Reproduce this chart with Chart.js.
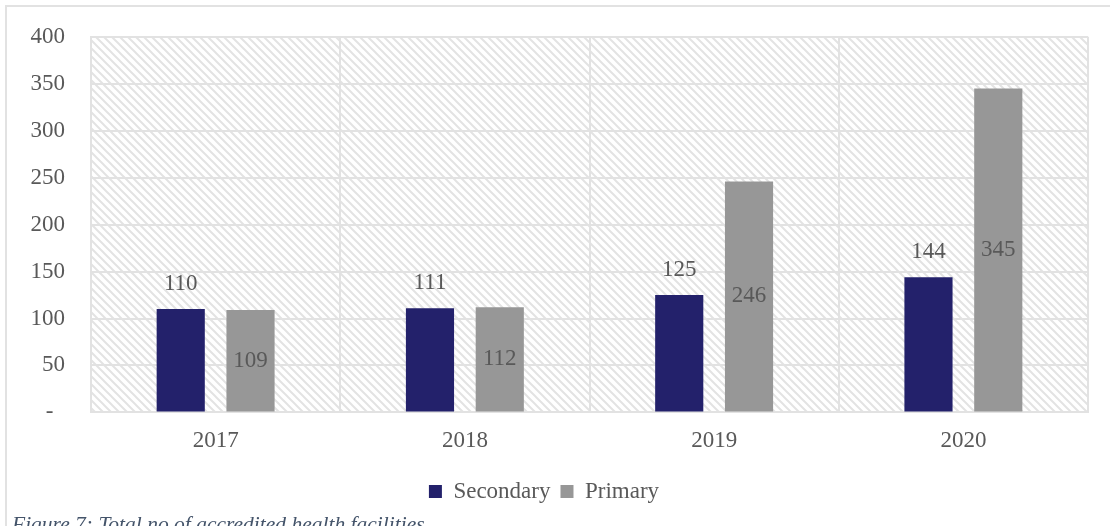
<!DOCTYPE html>
<html>
<head>
<meta charset="utf-8">
<script src="https://cdn.jsdelivr.net/npm/chart.js@4"></script>
<style>
  html, body { margin: 0; padding: 0; background: #fff; overflow: hidden; }
  body { width: 1110px; height: 526px; position: relative; }
  .frame {
    position: absolute; left: 5px; top: 5px; width: 1200px; height: 600px;
    border-left: 2px solid #e2e2e2; border-top: 2px solid #e2e2e2;
  }
  .wrap { position: absolute; left: 0; top: -3px; width: 1110px; height: 526px; }
  .caption {
    position: absolute; left: 12px; top: 514px; white-space: nowrap;
    font-family: "Liberation Serif", serif; font-style: italic; font-size: 21.5px;
    line-height: 21px; color: #44546a;
  }
</style>
</head>
<body>
<div class="frame"></div>
<div class="wrap"><canvas id="chart" width="1110" height="526"></canvas></div>
<div class="caption">Figure 7: Total no of accredited health facilities</div>
<script>
// Accredited facilities per year
const years = ['2017', '2018', '2019', '2020'];
const secondary = [110, 111, 125, 144];
const primary = [109, 112, 246, 345];
const yTicks = [0, 50, 100, 150, 200, 250, 300, 350, 400];

const labelColor = '#595959';
const serif = 'Liberation Serif';
const fontSize = 23;

// diagonal hatch for the plot background
function makeHatch() {
    const c = document.createElement('canvas');
    c.width = 8; c.height = 8;
    const g = c.getContext('2d');
    g.strokeStyle = '#e3e3e3';
    g.lineWidth = 2;
    g.beginPath();
    g.moveTo(-2, -2); g.lineTo(10, 10);
    g.moveTo(-2, 6); g.lineTo(2, 10);
    g.moveTo(6, -2); g.lineTo(10, 2);
    g.stroke();
    return c;
}

const hatchBg = {
    id: 'hatchBg',
    beforeDraw(chart) {
        const {ctx, chartArea: a} = chart;
        ctx.save();
        ctx.fillStyle = ctx.createPattern(makeHatch(), 'repeat');
        ctx.fillRect(a.left, a.top, a.right - a.left, a.bottom - a.top);
        ctx.restore();
    }
};

// value labels: secondary above the bar, primary in the middle
const valueLabels = {
    id: 'valueLabels',
    afterDatasetsDraw(chart) {
        const ctx = chart.ctx;
        ctx.save();
        ctx.font = fontSize + 'px "' + serif + '"';
        ctx.fillStyle = labelColor;
        ctx.textAlign = 'center';
        ctx.textBaseline = 'middle';
        chart.data.datasets.forEach((ds, i) => {
            chart.getDatasetMeta(i).data.forEach((bar, j) => {
                const y = i === 0 ? bar.y - 25 : (bar.y + bar.base) / 2;
                ctx.fillText(String(ds.data[j]), bar.x, y);
            });
        });
        ctx.restore();
    }
};

new Chart(document.getElementById('chart'), {
    type: 'bar',
    data: {
        labels: years,
        datasets: [{
            label: 'Secondary',
            data: secondary,
            backgroundColor: '#23216b',
            categoryPercentage: 0.56,
            barPercentage: 0.69
        }, {
            label: 'Primary',
            data: primary,
            backgroundColor: '#979797',
            categoryPercentage: 0.56,
            barPercentage: 0.69
        }]
    },
    options: {
        responsive: false,
        animation: false,
        layout: { padding: { top: 30, right: 22, bottom: 10, left: 0 } },
        plugins: {
            legend: {
                position: 'bottom',
                labels: {
                    boxWidth: 13,
                    boxHeight: 13,
                    color: labelColor,
                    font: { family: serif, size: fontSize },
                    padding: 10
                }
            },
            tooltip: { enabled: false }
        },
        scales: {
            x: {
                grid: { color: '#e2e2e2', lineWidth: 2, drawTicks: false },
                border: { color: '#e2e2e2', width: 2 },
                ticks: { color: labelColor, font: { family: serif, size: fontSize }, padding: 15 }
            },
            y: {
                min: 0,
                max: 400,
                afterBuildTicks(scale) { scale.ticks = yTicks.map(v => ({value: v})); },
                afterFit(scale) { scale.width = 91; },
                grid: { color: '#e2e2e2', lineWidth: 2, drawTicks: false },
                border: { color: '#e2e2e2', width: 2 },
                ticks: {
                    color: labelColor,
                    font: { family: serif, size: fontSize },
                    padding: 26,
                    callback: v => v === 0 ? '-  ' : v
                }
            }
        }
    },
    plugins: [hatchBg, valueLabels]
});
</script>
</body>
</html>
